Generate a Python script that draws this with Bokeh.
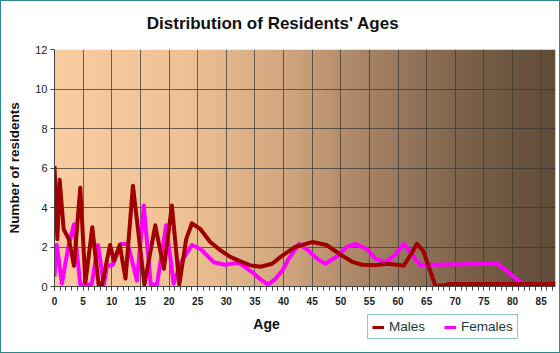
import numpy as np
from bokeh.plotting import figure
from bokeh.layouts import column
from bokeh.models import Legend, LegendItem, Label, FixedTicker
from bokeh.embed import file_html
from bokeh.resources import INLINE

title_text = "Distribution of Residents' Ages"
x_label = "Age"
y_label = "Number of residents"
x_ticks = list(range(0, 90, 5))
y_ticks = list(range(0, 14, 2))
series_names = ["Males", "Females"]

male_age = [0, 0.5, 0.9, 1.6, 2.5, 3.4, 4.5, 5.4, 6.6, 7.7, 8.3, 9.7, 10.4, 11.4, 12.4,
            13.7, 15.7, 17.6, 19.1, 20.5, 21.8, 23.0, 24.0, 25.5, 27.2, 29.0, 30.7, 32.5, 34.2,
            36.0, 38.0, 39.5, 42.0, 45.0, 47.5, 50.2, 52.0, 53.7, 56.0, 58.1, 61.0, 62.2, 63.3,
            64.4, 65.4, 66.5, 68.0, 69.0, 87.5]
male_val = [6.1, 2.4, 5.4, 2.9, 2.4, 1.05, 5.0, 0.2, 3.0, 0.1, 0.1, 2.1, 1.3, 2.1, 0.4,
            5.1, 0.1, 3.1, 0.9, 4.1, 0.1, 2.4, 3.2, 2.9, 2.25, 1.83, 1.5, 1.27, 1.07,
            1.0, 1.15, 1.5, 2.0, 2.25, 2.1, 1.57, 1.25, 1.1, 1.08, 1.15, 1.06, 1.6, 2.16,
            1.8, 0.98, 0.05, 0.05, 0.13, 0.13]

female_age = [0, 0.4, 1.3, 2.4, 3.4, 4.5, 6.5, 7.6, 8.6, 9.2, 10.2, 11.6, 12.8, 14.4, 15.6,
              16.8, 17.9, 19.5, 20.8, 22.0, 24.0, 25.5, 27.8, 29.7, 32.2, 34.5, 36.0, 37.3,
              38.6, 39.8, 40.9, 42.7, 44.4, 45.9, 47.3, 49.6, 51.0, 52.6, 54.5, 56.1, 57.8,
              59.5, 61.0, 62.5, 63.9, 66.0, 77.4, 79.9, 82.3]
female_val = [0.5, 2.1, 0.15, 2.0, 3.15, 0.1, 0.1, 2.1, 0.1, 1.05, 1.1, 2.15, 2.15, 0.3, 4.1,
              0.1, 0.1, 3.1, 0.15, 1.2, 2.1, 1.9, 1.23, 1.1, 1.2, 0.73, 0.35, 0.1,
              0.39, 0.81, 1.4, 2.16, 1.8, 1.4, 1.15, 1.57, 2.0, 2.16, 1.9, 1.4, 1.23,
              1.6, 2.16, 1.6, 1.06, 1.1, 1.15, 0.56, 0.0]

X_MAX = 87.5
Y_MAX = 12
FONT = "Liberation Sans"
TEAL = "#2a8a8a"
MALE_C = "#a00000"
FEMALE_C = "#ff00ff"
FW = 501          # frame width (px)
BL, BR = 53, 4    # side borders


def strip(height):
    f = figure(frame_width=FW, frame_height=height, x_range=(0, FW), y_range=(height, 0),
               min_border_left=BL, min_border_right=BR, min_border_top=0, min_border_bottom=0,
               output_backend="svg", toolbar_location=None)
    f.axis.visible = False
    f.grid.visible = False
    f.outline_line_color = None
    f.background_fill_color = "white"
    f.border_fill_color = "white"
    return f


# ---------- title strip (frame x measured from plot-area left edge) ----------
top = strip(39)
top.add_layout(Label(x=218.5, y=21.5, text=title_text, text_font=FONT,
                     text_font_size="17px", text_font_style="bold", text_color="#111111",
                     text_align="center", text_baseline="middle"))

# ---------- main chart ----------
p = figure(frame_width=FW, frame_height=237, x_range=(0, X_MAX), y_range=(0, Y_MAX),
           min_border_left=BL, min_border_right=BR, min_border_top=9, min_border_bottom=24,
           output_backend="svg", toolbar_location=None)
p.background_fill_color = "white"
p.border_fill_color = "white"
p.outline_line_color = None

stops_x = [0, 126, 226, 316, 416, 501]
stops_c = [(250, 205, 160), (240, 195, 150), (212, 168, 128), (165, 130, 100), (122, 96, 72), (96, 76, 57)]
xs = np.arange(FW)
img = np.empty((1, FW), dtype=np.uint32)
view = img.view(dtype=np.uint8).reshape((1, FW, 4))
for k in range(3):
    view[0, :, k] = np.interp(xs, stops_x, [c[k] for c in stops_c]).astype(np.uint8)
view[0, :, 3] = 255
bg = p.image_rgba(image=[img], x=0, y=0, dw=X_MAX, dh=Y_MAX)
bg.level = "image"

p.xgrid.ticker = FixedTicker(ticks=x_ticks)
p.ygrid.ticker = FixedTicker(ticks=y_ticks)
for g in (p.xgrid, p.ygrid):
    g.grid_line_color = "#3a3a3a"
    g.grid_line_alpha = 0.75
    g.grid_line_width = 1
    g.level = "underlay"

p.xaxis.ticker = FixedTicker(ticks=x_ticks, minor_ticks=list(range(0, 88)))
p.yaxis.ticker = FixedTicker(ticks=y_ticks)
for ax in (p.xaxis, p.yaxis):
    ax.axis_line_color = "#444444"
    ax.major_tick_line_color = "#444444"
    ax.minor_tick_line_color = "#444444"
    ax.major_tick_in = 0
    ax.minor_tick_in = 0
    ax.major_label_text_font = FONT
    ax.major_label_text_color = "#222222"
p.xaxis.major_tick_out = 4
p.xaxis.minor_tick_out = 4
p.xaxis.major_label_text_font_size = "10px"
p.xaxis.major_label_text_font_style = "bold"
p.xaxis.major_label_standoff = 6
p.yaxis.major_tick_out = 4
p.yaxis.minor_tick_out = 0
p.yaxis.major_label_text_font_size = "11px"
p.yaxis.major_label_standoff = 3
p.yaxis.axis_label = y_label
p.yaxis.axis_label_text_font = FONT
p.yaxis.axis_label_text_font_size = "13.5px"
p.yaxis.axis_label_text_font_style = "bold"
p.yaxis.axis_label_text_color = "#111111"
p.yaxis.axis_label_standoff = 10

p.line(female_age, female_val, line_color=FEMALE_C, line_width=4, line_join="round")
p.line(male_age, male_val, line_color=MALE_C, line_width=4, line_join="round")

# ---------- bottom strip: x label + legend ----------
bot = strip(42)
bot.add_layout(Label(x=212, y=13, text=x_label, text_font=FONT,
                     text_font_size="14px", text_font_style="bold", text_color="#111111",
                     text_align="center", text_baseline="middle"))
lm = bot.line([np.nan], [np.nan], line_color=MALE_C, line_width=3)
lf = bot.line([np.nan], [np.nan], line_color=FEMALE_C, line_width=3)
legend = Legend(items=[LegendItem(label=series_names[0], renderers=[lm]),
                       LegendItem(label=series_names[1], renderers=[lf])],
                location=(313, 13), orientation="horizontal",
                border_line_color=TEAL, border_line_width=1,
                background_fill_alpha=0, label_text_font=FONT,
                label_text_font_size="13.5px", label_text_color="#1a3a3a",
                glyph_width=12, glyph_height=12, label_standoff=5, spacing=19,
                padding=4, margin=0, label_height=14)
bot.add_layout(legend, "center")

layout = column(top, p, bot, spacing=0,
                styles={"border": "1px solid " + TEAL, "background-color": "white"})

open("out.html", "w").write(file_html(layout, INLINE))
